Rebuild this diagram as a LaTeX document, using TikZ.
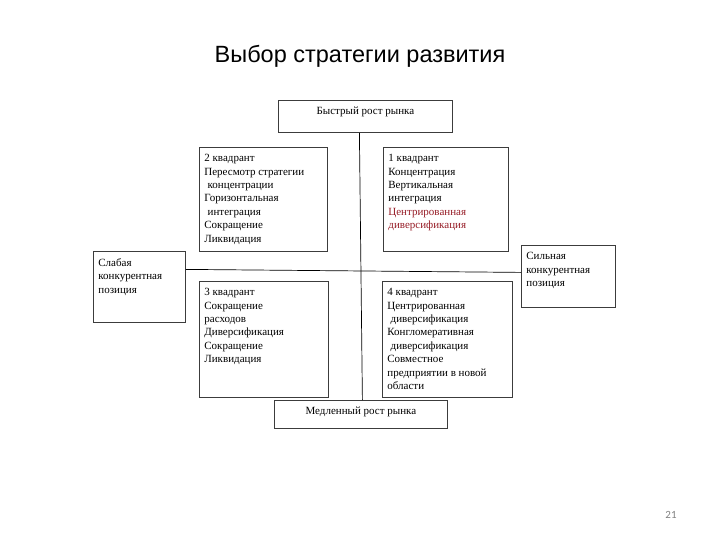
\documentclass[tikz,border=0pt]{standalone}
\usepackage{fontspec}
\setmainfont{Liberation Serif}
\newfontfamily\headfont{Liberation Sans}
\newfontfamily\numfont{Carlito}
\definecolor{boxline}{RGB}{60,60,60}
\definecolor{darkred}{RGB}{150,28,38}
\newcommand{\boxtext}[3]{\parbox[t][#2][t]{#1}{\raggedright #3}}
\newcommand{\ind}{\hspace*{0.3em}}

\begin{document}
\begin{tikzpicture}[x=1pt, y=-1pt,
	box/.style={draw=boxline, line width=0.8pt, anchor=north west,
		inner xsep=5pt, inner ysep=7pt,
		font=\fontsize{11}{13.4}\selectfont},
	axis/.style={draw=black, line width=0.7pt}
]

	\useasboundingbox (0,0) rectangle (720,540);

	% Title
	\node[font=\headfont\fontsize{23.5}{27}\selectfont] (title) at (360,56) {Выбор стратегии развития};

	% Axis boxes
	\node[box] (fast) at (278,100) {\boxtext{164pt}{18pt}{\centering Быстрый рост рынка}};
	\node[box] (slow) at (274,400) {\boxtext{163pt}{14pt}{\centering Медленный рост рынка}};
	\node[box] (weak) at (93,251) {\boxtext{82pt}{57pt}{Слабая\\конкурентная\\позиция}};
	\node[box] (strong) at (521,245) {\boxtext{84pt}{48pt}{Сильная\\конкурентная\\позиция}};

	% Quadrants
	\node[box] (q2) at (199,147) {\boxtext{118pt}{90pt}{2 квадрант\\Пересмотр стратегии\\\ind концентрации\\Горизонтальная\\\ind интеграция\\Сокращение\\Ликвидация}};
	\node[box] (q1) at (383,147) {\boxtext{115pt}{90pt}{1 квадрант\\Концентрация\\Вертикальная\\интеграция\\\textcolor{darkred}{Центрированная}\\\textcolor{darkred}{диверсификация}}};
	\node[box] (q3) at (199,281) {\boxtext{119pt}{102pt}{3 квадрант\\Сокращение\\расходов\\Диверсификация\\Сокращение\\Ликвидация}};
	\node[box] (q4) at (382,281) {\boxtext{120pt}{102pt}{4 квадрант\\Центрированная\\\ind диверсификация\\Конгломеративная\\\ind диверсификация\\Совместное\\предприятии в новой\\области}};

	% Axes
	\draw[axis] ([xshift=-6pt]fast.south) -- ([xshift=1.5pt]slow.north);
	\draw[axis] ([yshift=17.5pt]weak.east) -- ([yshift=4pt]strong.west);

	% Page number
	\node[font=\numfont\fontsize{11}{13}\selectfont, text=gray] (page) at (671,515) {21};

\end{tikzpicture}
\end{document}
